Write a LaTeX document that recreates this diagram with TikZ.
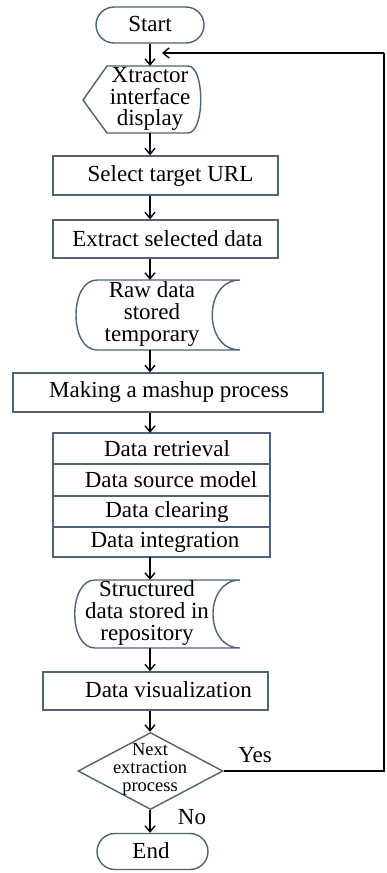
\documentclass[tikz,border=0pt]{standalone}
\usepackage{fontspec}
\setmainfont{Liberation Serif}
\usetikzlibrary{arrows.meta,shapes.geometric}
\definecolor{outline}{RGB}{78,98,122}
\begin{document}
\begin{tikzpicture}[x=1pt,y=-1pt,
  shapeline/.style={draw=outline,line width=1.4pt},
  lbl/.style={font=\fontsize{23}{21.7}\selectfont,align=center,inner sep=0pt},
  small/.style={font=\fontsize{18.5}{18}\selectfont,align=center,inner sep=0pt},
  terminal/.style={shapeline,rounded corners=18pt,minimum height=36pt},
  boxframe/.style={shapeline,inner sep=0pt},
  flow/.style={draw=black,line width=1.5pt,-{Straight Barb[length=6pt,width=10pt,line width=1.4pt]}},
  plain/.style={draw=black,line width=1.5pt}]
\useasboundingbox (0,0) rectangle (387,873);
\fill[white] (0,0) rectangle (387,873);

% start / end terminals
\node[terminal,minimum width=108pt] (start) at (150,25) {};
\node[lbl] (starttext) at (150,24) {Start};
\node[terminal,minimum width=111pt] (finish) at (152.5,851.5) {};
\node[lbl] (endtext) at (151,851) {End};

% display shape
\draw[shapeline] (107,66) -- (188,66) .. controls (205,66) and (205,133) .. (188,133)
  -- (107,133) -- (83,100) -- cycle;
\node[minimum width=118pt,minimum height=67pt,inner sep=0pt] (disp) at (142,99.5) {};
\node[lbl] (disptext) at (150,99) {Xtractor\\interface\\display};

% process boxes
\node[boxframe,minimum width=225pt,minimum height=39pt] (url) at (165.5,175.5) {};
\node[lbl] (urltext) at (170.5,175.5) {Select target URL};
\node[boxframe,minimum width=225pt,minimum height=38pt] (extract) at (165.5,239) {};
\node[lbl] (extracttext) at (167.5,239) {Extract selected data};

% raw data storage
\draw[shapeline] (97,280) -- (240,280) .. controls (203,280) and (203,350) .. (240,350)
  -- (97,350) .. controls (69,350) and (69,280) .. (97,280) -- cycle;
\node[minimum width=165pt,minimum height=70pt,inner sep=0pt] (raw) at (150,315) {};
\node[lbl] (rawtext) at (152,314) {Raw data\\stored\\temporary};

\node[boxframe,minimum width=310pt,minimum height=39pt] (mashup) at (168,392.5) {};
\node[lbl] (mashuptext) at (169,392) {Making a mashup process};

% stacked mashup steps
\draw[shapeline] (53,433) rectangle (270,557);
\draw[shapeline] (53,464) -- (270,464) (53,496) -- (270,496) (53,527) -- (270,527);
\node[minimum width=217pt,minimum height=124pt,inner sep=0pt] (steps) at (161.5,495) {};
\node[lbl] (s1) at (167,449) {Data retrieval};
\node[lbl] (s2) at (171,480) {Data source model};
\node[lbl] (s3) at (167,512) {Data clearing};
\node[lbl] (s4) at (165,542) {Data integration};

% structured data storage
\draw[shapeline] (95,580) -- (240,580) .. controls (204,580) and (204,648) .. (240,648)
  -- (95,648) .. controls (68,648) and (68,580) .. (95,580) -- cycle;
\node[minimum width=165pt,minimum height=68pt,inner sep=0pt] (struct) at (150,614) {};
\node[lbl] (structtext) at (147,613) {Structured\\data stored in\\repository};

\node[boxframe,minimum width=225pt,minimum height=38pt] (vis) at (155.5,691) {};
\node[lbl] (vistext) at (168.5,690) {Data visualization};

% decision
\node[shapeline,diamond,aspect=1.9,minimum width=145pt,minimum height=77pt,inner sep=0pt] (dec) at (150.5,771) {};
\node[small] (dectext) at (150,769) {Next\\extraction\\process};

% flow connectors down the column
\draw[flow] (start.south) -- (disp.north -| start.south);
\draw[flow] (disp.south -| start.south) -- (url.north -| start.south);
\draw[flow] (url.south -| start.south) -- (extract.north -| start.south);
\draw[flow] (extract.south -| start.south) -- (raw.north -| start.south);
\draw[flow] (raw.south -| start.south) -- (mashup.north -| start.south);
\draw[flow] (mashup.south -| start.south) -- (steps.north -| start.south);
\draw[flow] (steps.south -| start.south) -- (struct.north -| start.south);
\draw[flow] (struct.south -| start.south) -- (vis.north -| start.south);
\draw[flow] (vis.south -| start.south) -- (dec.north -| start.south);
\draw[flow] (dec.south -| start.south) -- (finish.north -| start.south);
\node[lbl] (nolbl) at (192,817) {No};

% loop back to the display step
\coordinate (loopcorner) at (384,771);
\coordinate (looptop) at (384,53);
\coordinate (loopend) at (162,53);
\draw[plain] (dec.east) -- (loopcorner) -- (looptop);
\draw[flow] (looptop) -- (loopend);
\node[lbl] (yeslbl) at (255,755) {Yes};
\end{tikzpicture}
\end{document}
